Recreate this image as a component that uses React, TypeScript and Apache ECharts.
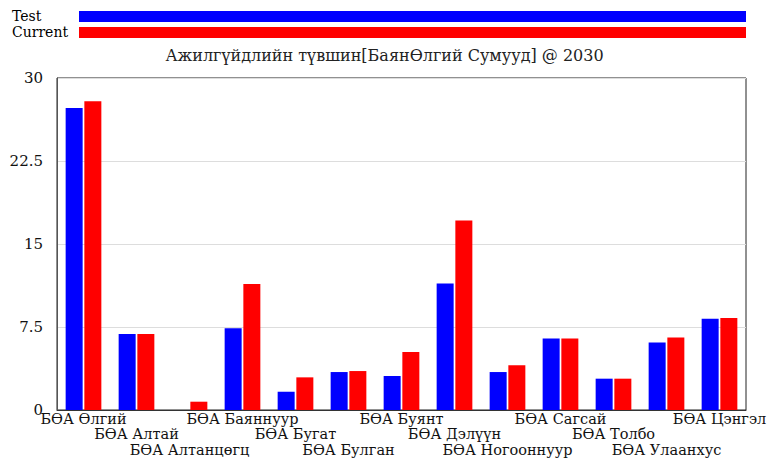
import React, { useEffect, useRef } from "react";
import * as echarts from "echarts";

const categories = [
  "БӨА Өлгий",
  "БӨА Алтай",
  "БӨА Алтанцөгц",
  "БӨА Баяннуур",
  "БӨА Бугат",
  "БӨА Булган",
  "БӨА Буянт",
  "БӨА Дэлүүн",
  "БӨА Ногооннуур",
  "БӨА Сагсай",
  "БӨА Толбо",
  "БӨА Улаанхус",
  "БӨА Цэнгэл",
];
const testValues = [27.3, 6.87, 0, 7.38, 1.65, 3.43, 3.07, 11.44, 3.43, 6.47, 2.83, 6.11, 8.25];
const currentValues = [27.9, 6.87, 0.75, 11.38, 2.95, 3.52, 5.24, 17.13, 4.04, 6.47, 2.83, 6.56, 8.31];
const yTicks = [0, 7.5, 15, 22.5, 30];
const titleText = "Ажилгүйдлийн түвшин[БаянӨлгий Сумууд] @ 2030";
const seriesNames = ["Test", "Current"];

const FONT = "DejaVu Serif";

export default function App() {
  const ref = useRef<HTMLDivElement>(null);
  useEffect(() => {
    if (!ref.current) return;
    const chart = echarts.init(ref.current, undefined, { renderer: "svg" });
    chart.setOption({
      animation: false,
      backgroundColor: "#fff",
      textStyle: { fontFamily: FONT },
      title: {
        text: titleText,
        left: "center",
        top: 42,
        textStyle: { fontFamily: FONT, fontSize: 16, fontWeight: "normal", color: "#222" },
      },
      graphic: [
        {
          type: "text",
          x: 12,
          y: 16,
          style: { text: seriesNames[0], fontFamily: FONT, fontSize: 14, fill: "#000", verticalAlign: "middle" },
        },
        {
          type: "text",
          x: 12,
          y: 32,
          style: { text: seriesNames[1], fontFamily: FONT, fontSize: 14, fill: "#000", verticalAlign: "middle" },
        },
        { type: "rect", shape: { x: 79, y: 11, width: 667, height: 11 }, style: { fill: "#0000ff" } },
        { type: "rect", shape: { x: 79, y: 27, width: 667, height: 11 }, style: { fill: "#ff0000" } },
      ],
      grid: {
        left: 57,
        right: 23,
        top: 78,
        bottom: 50,
        show: true,
        borderColor: "#222",
        borderWidth: 1,
        containLabel: false,
        outerBoundsMode: "none",
      },
      xAxis: {
        type: "category",
        data: categories,
        axisTick: { show: false },
        axisLine: { lineStyle: { color: "#333" } },
        axisLabel: {
          interval: 0,
          fontFamily: FONT,
          fontSize: 14.5,
          color: "#111",
          lineHeight: 15.5,
          margin: 1,
          formatter: (v: string) => {
            const i = categories.indexOf(v);
            return "\n".repeat(i % 3) + v;
          },
        },
      },
      yAxis: {
        type: "value",
        min: yTicks[0],
        max: yTicks[yTicks.length - 1],
        interval: 7.5,
        axisLine: { show: true, lineStyle: { color: "#555" } },
        axisTick: { show: false },
        splitLine: { lineStyle: { color: "#ddd" } },
        axisLabel: { fontFamily: FONT, fontSize: 15, lineHeight: 12, color: "#111", margin: 14 },
      },
      series: [
        {
          name: seriesNames[0],
          type: "bar",
          data: testValues,
          barWidth: 17,
          barGap: "10%",
          itemStyle: { color: "#0000ff" },
        },
        {
          name: seriesNames[1],
          type: "bar",
          data: currentValues,
          barWidth: 17,
          itemStyle: { color: "#ff0000" },
        },
      ],
    });
    return () => chart.dispose();
  }, []);
  return (
    <div
      ref={ref}
      style={{ position: "fixed", left: 0, top: 0, width: 769, height: 460 }}
    />
  );
}
